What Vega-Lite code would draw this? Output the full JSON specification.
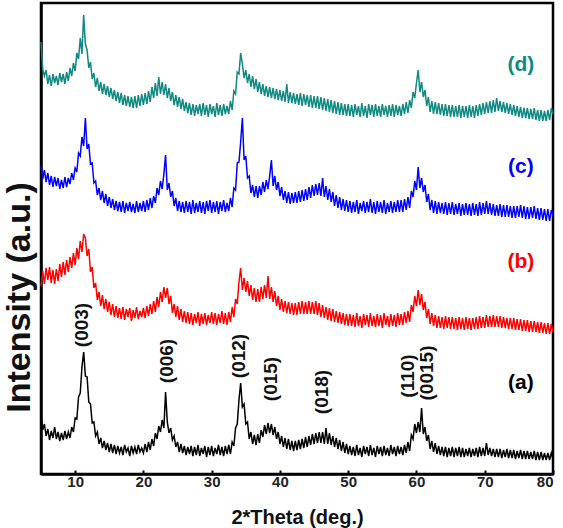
{
 "$schema": "https://vega.github.io/schema/vega-lite/v6.json",
 "width": 512, "height": 471,
 "autosize": "none",
 "padding": {"left": 41, "top": 3, "right": 10, "bottom": 54},
 "config": {"view": {"stroke": "black", "strokeWidth": 2.5}, "font": "Liberation Sans"},
 "datasets": {
  "xrd": [
{"t":5,"a":58,"b":188,"c":308,"d":432},{"t":5.25,"a":44,"b":203,"c":295,"d":405},{"t":5.5,"a":50,"b":190,"c":304,"d":398},{"t":5.75,"a":38,"b":206,"c":292,"d":404},
{"t":6,"a":45,"b":194,"c":301,"d":390},{"t":6.25,"a":34,"b":207,"c":289,"d":399},{"t":6.5,"a":43,"b":191,"c":298,"d":388},{"t":6.75,"a":36,"b":204,"c":287,"d":400},
{"t":7,"a":47,"b":190,"c":297,"d":391},{"t":7.25,"a":35,"b":205,"c":288,"d":398},{"t":7.5,"a":42,"b":193,"c":296,"d":389},{"t":7.75,"a":33,"b":210,"c":285,"d":401},
{"t":8,"a":41,"b":197,"c":294,"d":392},{"t":8.25,"a":34,"b":212,"c":286,"d":400},{"t":8.5,"a":43,"b":199,"c":297,"d":390},{"t":8.75,"a":35,"b":214,"c":287,"d":402},
{"t":9,"a":42,"b":202,"c":296,"d":393},{"t":9.25,"a":36,"b":217,"c":290,"d":406},{"t":9.5,"a":47,"b":206,"c":301,"d":398},{"t":9.75,"a":42,"b":221,"c":294,"d":411},
{"t":10,"a":56,"b":209,"c":306,"d":403},{"t":10.25,"a":55,"b":226,"c":302,"d":421},{"t":10.5,"a":77,"b":215,"c":321,"d":415},{"t":10.75,"a":81,"b":233,"c":318,"d":436},
{"t":11,"a":107,"b":222,"c":337,"d":420},{"t":11.25,"a":122,"b":240,"c":328,"d":459},{"t":11.5,"a":98,"b":236,"c":356,"d":430},{"t":11.75,"a":97,"b":218,"c":325,"d":424},
{"t":12,"a":72,"b":225,"c":330,"d":406},{"t":12.25,"a":70,"b":202,"c":310,"d":412},{"t":12.5,"a":51,"b":207,"c":311,"d":395},{"t":12.75,"a":52,"b":186,"c":291,"d":401},
{"t":13,"a":38,"b":191,"c":293,"d":387},{"t":13.25,"a":42,"b":174,"c":279,"d":396},{"t":13.5,"a":30,"b":182,"c":286,"d":383},{"t":13.75,"a":36,"b":168,"c":274,"d":392},
{"t":14,"a":26,"b":179,"c":283,"d":380},{"t":14.25,"a":33,"b":165,"c":271,"d":390},{"t":14.5,"a":24,"b":175,"c":280,"d":379},{"t":14.75,"a":31,"b":162,"c":268,"d":388},
{"t":15,"a":22,"b":172,"c":277,"d":377},{"t":15.25,"a":30,"b":159,"c":266,"d":386},{"t":15.5,"a":21,"b":170,"c":275,"d":375},{"t":15.75,"a":29,"b":157,"c":264,"d":384},
{"t":16,"a":20,"b":168,"c":273,"d":373},{"t":16.25,"a":28,"b":156,"c":263,"d":382},{"t":16.5,"a":21,"b":166,"c":272,"d":371},{"t":16.75,"a":27,"b":155,"c":262,"d":381},
{"t":17,"a":19,"b":167,"c":273,"d":369},{"t":17.25,"a":29,"b":154,"c":261,"d":379},{"t":17.5,"a":22,"b":165,"c":271,"d":368},{"t":17.75,"a":26,"b":157,"c":263,"d":378},
{"t":18,"a":18,"b":166,"c":272,"d":367},{"t":18.25,"a":28,"b":153,"c":262,"d":377},{"t":18.5,"a":21,"b":164,"c":270,"d":366},{"t":18.75,"a":27,"b":156,"c":261,"d":378},
{"t":19,"a":20,"b":167,"c":273,"d":366},{"t":19.25,"a":29,"b":155,"c":262,"d":379},{"t":19.5,"a":22,"b":163,"c":271,"d":368},{"t":19.75,"a":26,"b":157,"c":263,"d":380},
{"t":20,"a":21,"b":166,"c":273,"d":369},{"t":20.25,"a":30,"b":156,"c":262,"d":381},{"t":20.5,"a":22,"b":168,"c":274,"d":370},{"t":20.75,"a":32,"b":158,"c":264,"d":383},
{"t":21,"a":24,"b":170,"c":276,"d":372},{"t":21.25,"a":35,"b":160,"c":266,"d":387},{"t":21.5,"a":28,"b":173,"c":278,"d":376},{"t":21.75,"a":41,"b":162,"c":271,"d":391},
{"t":22,"a":35,"b":177,"c":286,"d":378},{"t":22.25,"a":48,"b":167,"c":279,"d":397},{"t":22.5,"a":42,"b":182,"c":293,"d":380},{"t":22.75,"a":54,"b":172,"c":285,"d":392},
{"t":23,"a":46,"b":187,"c":300,"d":379},{"t":23.25,"a":82,"b":176,"c":319,"d":390},{"t":23.5,"a":52,"b":186,"c":284,"d":376},{"t":23.75,"a":41,"b":170,"c":291,"d":386},
{"t":24,"a":46,"b":178,"c":277,"d":373},{"t":24.25,"a":34,"b":161,"c":283,"d":382},{"t":24.5,"a":38,"b":170,"c":268,"d":369},{"t":24.75,"a":27,"b":157,"c":276,"d":379},
{"t":25,"a":32,"b":168,"c":263,"d":367},{"t":25.25,"a":22,"b":154,"c":273,"d":377},{"t":25.5,"a":30,"b":165,"c":262,"d":365},{"t":25.75,"a":21,"b":152,"c":272,"d":375},
{"t":26,"a":28,"b":163,"c":261,"d":363},{"t":26.25,"a":19,"b":151,"c":273,"d":372},{"t":26.5,"a":27,"b":162,"c":262,"d":361},{"t":26.75,"a":20,"b":150,"c":272,"d":371},
{"t":27,"a":28,"b":161,"c":260,"d":359},{"t":27.25,"a":18,"b":149,"c":274,"d":370},{"t":27.5,"a":27,"b":160,"c":261,"d":358},{"t":27.75,"a":19,"b":151,"c":271,"d":369},
{"t":28,"a":29,"b":162,"c":262,"d":360},{"t":28.25,"a":18,"b":148,"c":273,"d":370},{"t":28.5,"a":26,"b":160,"c":261,"d":358},{"t":28.75,"a":20,"b":150,"c":272,"d":371},
{"t":29,"a":28,"b":161,"c":260,"d":359},{"t":29.25,"a":17,"b":149,"c":273,"d":369},{"t":29.5,"a":27,"b":159,"c":263,"d":357},{"t":29.75,"a":19,"b":151,"c":274,"d":370},
{"t":30,"a":28,"b":162,"c":261,"d":360},{"t":30.25,"a":18,"b":150,"c":272,"d":368},{"t":30.5,"a":26,"b":161,"c":262,"d":357},{"t":30.75,"a":20,"b":149,"c":273,"d":371},
{"t":31,"a":29,"b":160,"c":260,"d":359},{"t":31.25,"a":19,"b":151,"c":272,"d":369},{"t":31.5,"a":27,"b":163,"c":263,"d":358},{"t":31.75,"a":18,"b":150,"c":274,"d":370},
{"t":32,"a":28,"b":161,"c":262,"d":360},{"t":32.25,"a":20,"b":149,"c":271,"d":368},{"t":32.5,"a":29,"b":162,"c":263,"d":360},{"t":32.75,"a":20,"b":152,"c":276,"d":373},
{"t":33,"a":32,"b":167,"c":267,"d":364},{"t":33.25,"a":28,"b":157,"c":286,"d":383},{"t":33.5,"a":46,"b":175,"c":284,"d":380},{"t":33.75,"a":50,"b":170,"c":311,"d":402},
{"t":34,"a":74,"b":192,"c":312,"d":400},{"t":34.25,"a":91,"b":206,"c":332,"d":421},{"t":34.5,"a":67,"b":184,"c":356,"d":410},{"t":34.75,"a":70,"b":196,"c":314,"d":396},
{"t":35,"a":50,"b":182,"c":318,"d":404},{"t":35.25,"a":52,"b":193,"c":296,"d":391},{"t":35.5,"a":35,"b":178,"c":298,"d":400},{"t":35.75,"a":42,"b":189,"c":281,"d":387},
{"t":36,"a":30,"b":174,"c":289,"d":398},{"t":36.25,"a":39,"b":186,"c":277,"d":385},{"t":36.5,"a":29,"b":172,"c":288,"d":395},{"t":36.75,"a":40,"b":185,"c":276,"d":382},
{"t":37,"a":31,"b":172,"c":288,"d":392},{"t":37.25,"a":44,"b":187,"c":279,"d":380},{"t":37.5,"a":37,"b":175,"c":292,"d":390},{"t":37.75,"a":49,"b":189,"c":282,"d":378},
{"t":38,"a":40,"b":176,"c":294,"d":388},{"t":38.25,"a":51,"b":198,"c":285,"d":377},{"t":38.5,"a":41,"b":175,"c":298,"d":387},{"t":38.75,"a":50,"b":187,"c":314,"d":376},
{"t":39,"a":39,"b":172,"c":288,"d":386},{"t":39.25,"a":47,"b":183,"c":298,"d":375},{"t":39.5,"a":35,"b":168,"c":284,"d":385},{"t":39.75,"a":42,"b":178,"c":292,"d":374},
{"t":40,"a":30,"b":164,"c":278,"d":384},{"t":40.25,"a":38,"b":175,"c":287,"d":373},{"t":40.5,"a":27,"b":162,"c":274,"d":383},{"t":40.75,"a":36,"b":173,"c":283,"d":372},
{"t":41,"a":25,"b":161,"c":271,"d":390},{"t":41.25,"a":35,"b":172,"c":282,"d":371},{"t":41.5,"a":24,"b":160,"c":270,"d":382},{"t":41.75,"a":33,"b":171,"c":281,"d":371},
{"t":42,"a":23,"b":159,"c":271,"d":381},{"t":42.25,"a":33,"b":171,"c":282,"d":370},{"t":42.5,"a":24,"b":159,"c":271,"d":380},{"t":42.75,"a":34,"b":172,"c":283,"d":369},
{"t":43,"a":25,"b":160,"c":272,"d":381},{"t":43.25,"a":35,"b":173,"c":284,"d":368},{"t":43.5,"a":26,"b":160,"c":273,"d":380},{"t":43.75,"a":37,"b":172,"c":285,"d":369},
{"t":44,"a":27,"b":160,"c":274,"d":379},{"t":44.25,"a":38,"b":173,"c":287,"d":367},{"t":44.5,"a":29,"b":160,"c":276,"d":379},{"t":44.75,"a":40,"b":172,"c":289,"d":366},
{"t":45,"a":30,"b":160,"c":278,"d":378},{"t":45.25,"a":41,"b":173,"c":290,"d":366},{"t":45.5,"a":31,"b":159,"c":279,"d":378},{"t":45.75,"a":42,"b":171,"c":291,"d":365},
{"t":46,"a":31,"b":157,"c":278,"d":377},{"t":46.25,"a":42,"b":169,"c":296,"d":364},{"t":46.5,"a":30,"b":156,"c":277,"d":376},{"t":46.75,"a":46,"b":167,"c":288,"d":363},
{"t":47,"a":30,"b":154,"c":274,"d":375},{"t":47.25,"a":41,"b":166,"c":285,"d":362},{"t":47.5,"a":29,"b":153,"c":272,"d":374},{"t":47.75,"a":38,"b":165,"c":282,"d":361},
{"t":48,"a":27,"b":152,"c":268,"d":373},{"t":48.25,"a":36,"b":163,"c":279,"d":360},{"t":48.5,"a":25,"b":151,"c":266,"d":372},{"t":48.75,"a":34,"b":162,"c":277,"d":359},
{"t":49,"a":23,"b":150,"c":264,"d":371},{"t":49.25,"a":32,"b":161,"c":275,"d":359},{"t":49.5,"a":21,"b":149,"c":263,"d":370},{"t":49.75,"a":30,"b":160,"c":274,"d":358},
{"t":50,"a":20,"b":148,"c":262,"d":370},{"t":50.25,"a":28,"b":160,"c":273,"d":358},{"t":50.5,"a":19,"b":148,"c":261,"d":369},{"t":50.75,"a":27,"b":159,"c":272,"d":357},
{"t":51,"a":18,"b":147,"c":262,"d":370},{"t":51.25,"a":29,"b":161,"c":274,"d":359},{"t":51.5,"a":19,"b":148,"c":260,"d":368},{"t":51.75,"a":26,"b":158,"c":271,"d":357},
{"t":52,"a":17,"b":146,"c":263,"d":371},{"t":52.25,"a":28,"b":160,"c":273,"d":358},{"t":52.5,"a":20,"b":149,"c":261,"d":368},{"t":52.75,"a":27,"b":159,"c":272,"d":356},
{"t":53,"a":18,"b":147,"c":262,"d":370},{"t":53.25,"a":29,"b":161,"c":275,"d":359},{"t":53.5,"a":19,"b":148,"c":261,"d":369},{"t":53.75,"a":26,"b":158,"c":272,"d":357},
{"t":54,"a":17,"b":147,"c":260,"d":370},{"t":54.25,"a":28,"b":160,"c":273,"d":358},{"t":54.5,"a":20,"b":148,"c":262,"d":368},{"t":54.75,"a":27,"b":159,"c":272,"d":357},
{"t":55,"a":18,"b":146,"c":261,"d":370},{"t":55.25,"a":28,"b":161,"c":274,"d":359},{"t":55.5,"a":19,"b":149,"c":260,"d":368},{"t":55.75,"a":26,"b":158,"c":271,"d":357},
{"t":56,"a":18,"b":147,"c":262,"d":369},{"t":56.25,"a":29,"b":160,"c":273,"d":358},{"t":56.5,"a":20,"b":148,"c":261,"d":370},{"t":56.75,"a":27,"b":159,"c":272,"d":357},
{"t":57,"a":18,"b":147,"c":262,"d":369},{"t":57.25,"a":28,"b":161,"c":274,"d":359},{"t":57.5,"a":20,"b":149,"c":262,"d":368},{"t":57.75,"a":27,"b":160,"c":274,"d":358},
{"t":58,"a":19,"b":149,"c":262,"d":370},{"t":58.25,"a":29,"b":162,"c":275,"d":360},{"t":58.5,"a":21,"b":151,"c":264,"d":372},{"t":58.75,"a":32,"b":163,"c":277,"d":361},
{"t":59,"a":23,"b":152,"c":266,"d":374},{"t":59.25,"a":39,"b":169,"c":283,"d":366},{"t":59.5,"a":35,"b":162,"c":277,"d":382},{"t":59.75,"a":50,"b":178,"c":293,"d":376},
{"t":60,"a":41,"b":168,"c":284,"d":391},{"t":60.25,"a":52,"b":184,"c":307,"d":404},{"t":60.5,"a":42,"b":169,"c":286,"d":382},{"t":60.75,"a":66,"b":180,"c":296,"d":392},
{"t":61,"a":40,"b":164,"c":282,"d":377},{"t":61.25,"a":47,"b":172,"c":289,"d":384},{"t":61.5,"a":33,"b":156,"c":272,"d":368},{"t":61.75,"a":39,"b":165,"c":280,"d":377},
{"t":62,"a":25,"b":150,"c":264,"d":362},{"t":62.25,"a":33,"b":161,"c":274,"d":373},{"t":62.5,"a":22,"b":148,"c":261,"d":360},{"t":62.75,"a":31,"b":159,"c":273,"d":372},
{"t":63,"a":20,"b":146,"c":260,"d":360},{"t":63.25,"a":28,"b":158,"c":272,"d":371},{"t":63.5,"a":19,"b":146,"c":261,"d":359},{"t":63.75,"a":27,"b":157,"c":271,"d":370},
{"t":64,"a":18,"b":145,"c":260,"d":358},{"t":64.25,"a":27,"b":158,"c":272,"d":370},{"t":64.5,"a":17,"b":146,"c":259,"d":358},{"t":64.75,"a":26,"b":157,"c":271,"d":369},
{"t":65,"a":18,"b":145,"c":260,"d":357},{"t":65.25,"a":27,"b":157,"c":272,"d":369},{"t":65.5,"a":17,"b":145,"c":259,"d":357},{"t":65.75,"a":26,"b":156,"c":270,"d":368},
{"t":66,"a":18,"b":144,"c":260,"d":357},{"t":66.25,"a":27,"b":157,"c":271,"d":369},{"t":66.5,"a":17,"b":145,"c":258,"d":356},{"t":66.75,"a":26,"b":156,"c":270,"d":368},
{"t":67,"a":17,"b":144,"c":259,"d":357},{"t":67.25,"a":25,"b":157,"c":271,"d":368},{"t":67.5,"a":18,"b":145,"c":259,"d":356},{"t":67.75,"a":26,"b":156,"c":270,"d":369},
{"t":68,"a":17,"b":144,"c":258,"d":357},{"t":68.25,"a":25,"b":156,"c":271,"d":368},{"t":68.5,"a":18,"b":145,"c":259,"d":356},{"t":68.75,"a":26,"b":157,"c":270,"d":369},
{"t":69,"a":17,"b":145,"c":258,"d":358},{"t":69.25,"a":27,"b":158,"c":272,"d":370},{"t":69.5,"a":18,"b":146,"c":259,"d":359},{"t":69.75,"a":26,"b":157,"c":271,"d":371},
{"t":70,"a":18,"b":146,"c":260,"d":360},{"t":70.25,"a":31,"b":159,"c":273,"d":372},{"t":70.5,"a":19,"b":147,"c":260,"d":361},{"t":70.75,"a":26,"b":158,"c":271,"d":373},
{"t":71,"a":18,"b":147,"c":259,"d":361},{"t":71.25,"a":25,"b":159,"c":270,"d":374},{"t":71.5,"a":17,"b":147,"c":258,"d":362},{"t":71.75,"a":25,"b":158,"c":269,"d":376},
{"t":72,"a":17,"b":147,"c":258,"d":363},{"t":72.25,"a":25,"b":158,"c":270,"d":373},{"t":72.5,"a":16,"b":146,"c":257,"d":362},{"t":72.75,"a":24,"b":157,"c":269,"d":372},
{"t":73,"a":17,"b":146,"c":257,"d":361},{"t":73.25,"a":25,"b":156,"c":269,"d":371},{"t":73.5,"a":16,"b":145,"c":257,"d":360},{"t":73.75,"a":24,"b":156,"c":268,"d":370},
{"t":74,"a":16,"b":145,"c":256,"d":359},{"t":74.25,"a":24,"b":156,"c":268,"d":369},{"t":74.5,"a":15,"b":144,"c":256,"d":358},{"t":74.75,"a":23,"b":155,"c":268,"d":368},
{"t":75,"a":16,"b":144,"c":257,"d":357},{"t":75.25,"a":24,"b":155,"c":269,"d":367},{"t":75.5,"a":15,"b":143,"c":256,"d":356},{"t":75.75,"a":23,"b":154,"c":268,"d":366},
{"t":76,"a":15,"b":143,"c":255,"d":356},{"t":76.25,"a":23,"b":154,"c":267,"d":366},{"t":76.5,"a":15,"b":142,"c":255,"d":355},{"t":76.75,"a":22,"b":153,"c":267,"d":365},
{"t":77,"a":15,"b":142,"c":256,"d":355},{"t":77.25,"a":23,"b":153,"c":268,"d":366},{"t":77.5,"a":14,"b":142,"c":255,"d":354},{"t":77.75,"a":22,"b":152,"c":266,"d":364},
{"t":78,"a":14,"b":141,"c":254,"d":353},{"t":78.25,"a":22,"b":152,"c":266,"d":364},{"t":78.5,"a":14,"b":141,"c":254,"d":353},{"t":78.75,"a":21,"b":151,"c":265,"d":363},
{"t":79,"a":14,"b":140,"c":253,"d":353},{"t":79.25,"a":21,"b":151,"c":265,"d":364},{"t":79.5,"a":14,"b":140,"c":253,"d":354},{"t":79.75,"a":21,"b":150,"c":264,"d":366},
{"t":80,"a":15,"b":142,"c":258,"d":360}
  ],
  "hkl": [
   {"t":11.0,"v":149,"label":"(003)"},
   {"t":23.45,"v":113,"label":"(006)"},
   {"t":34.0,"v":118,"label":"(012)"},
   {"t":38.7,"v":95,"label":"(015)"},
   {"t":46.2,"v":82,"label":"(018)"},
   {"t":58.75,"v":98,"label":"(110)"},
   {"t":61.5,"v":101,"label":"(0015)"}
  ],
  "tags": [
   {"t":75.3,"v":409,"s":"d","label":"(d)"},
   {"t":75.3,"v":307,"s":"c","label":"(c)"},
   {"t":75.3,"v":212,"s":"b","label":"(b)"},
   {"t":75.3,"v":91,"s":"a","label":"(a)"}
  ]
 },
 "layer": [
  {
   "data": {"name": "xrd"},
   "transform": [{"fold": ["a", "b", "c", "d"], "as": ["s", "v"]}],
   "mark": {"type": "line", "strokeWidth": 1.5},
   "encoding": {
    "x": {"field": "t", "type": "quantitative",
     "scale": {"domain": [5, 80], "nice": false, "zero": false},
     "axis": {"title": "2*Theta (deg.)", "values": [10,15,20,25,30,35,40,45,50,55,60,65,70,75,80],
      "labelExpr": "datum.value % 10 === 0 ? datum.label : ''",
      "labelFontSize": 15, "labelFontWeight": "bold", "labelColor": "#222222", "labelPadding": 4,
      "tickSize": -4, "tickWidth": 2, "tickColor": "black",
      "domainColor": "black", "domainWidth": 2.5, "grid": false,
      "titleFontSize": 20, "titleFontWeight": "bold", "titleColor": "#111111",
      "titleY": 49, "titleBaseline": "alphabetic"}},
    "y": {"field": "v", "type": "quantitative",
     "scale": {"domain": [0, 471], "nice": false},
     "axis": {"title": "Intensity (a.u.)", "ticks": false, "labels": false, "grid": false,
      "domainColor": "black", "domainWidth": 2.5,
      "titleFontSize": 34, "titleFontWeight": "bold", "titleColor": "#111111",
      "titleX": -22, "titleY": 294, "titleAngle": 270, "titleBaseline": "middle", "titleAlign": "center"}},
    "color": {"field": "s", "type": "nominal",
     "scale": {"domain": ["a", "b", "c", "d"], "range": ["#000000", "#ff0000", "#0000ff", "#0e8a82"]},
     "legend": null}
   }
  },
  {
   "data": {"name": "hkl"},
   "mark": {"type": "text", "angle": 270, "fontSize": 19, "fontWeight": "bold", "align": "center", "baseline": "middle", "color": "#111111"},
   "encoding": {
    "x": {"field": "t", "type": "quantitative"},
    "y": {"field": "v", "type": "quantitative"},
    "text": {"field": "label"}
   }
  },
  {
   "data": {"name": "tags"},
   "mark": {"type": "text", "fontSize": 21, "fontWeight": "bold", "align": "center", "baseline": "middle"},
   "encoding": {
    "x": {"field": "t", "type": "quantitative"},
    "y": {"field": "v", "type": "quantitative"},
    "text": {"field": "label"},
    "color": {"field": "s", "type": "nominal", "legend": null}
   }
  }
 ]
}
